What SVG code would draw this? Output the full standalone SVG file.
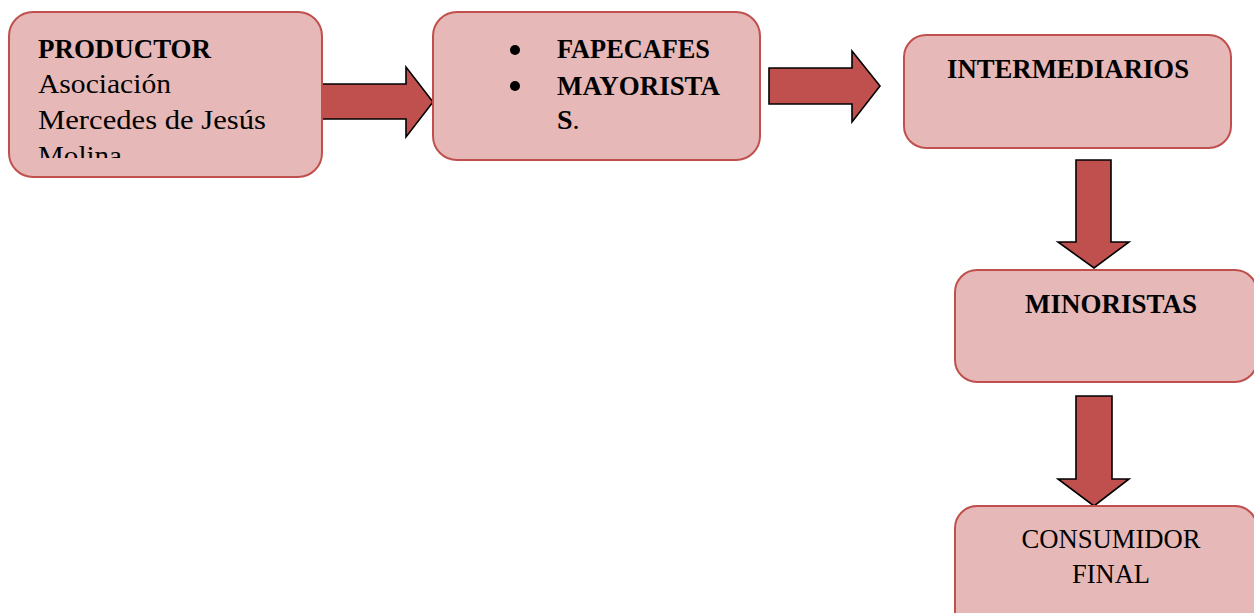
<svg xmlns="http://www.w3.org/2000/svg" width="1254" height="613" viewBox="0 0 1254 613">
<style>
.box{fill:#E6B8B7;stroke:#C0504D;stroke-width:2}
.arr{fill:#C0504D;stroke:#000;stroke-width:1.6;stroke-linejoin:miter}
.t{font-family:"Liberation Serif","DejaVu Serif",serif;font-size:28px;fill:#000}
.b{font-weight:bold}
</style>
<defs>
<clipPath id="c1"><rect x="9" y="12" width="313" height="146"/></clipPath>
</defs>
<rect width="1254" height="613" fill="#fff"/>
<g id="connectors">
<polygon class="arr" points="322,84 406,84 406,67 433,102 406,137 406,119 322,119"/>
<polygon class="arr" points="769,68 852,68 852,51 880,86 852,122 852,104 769,104"/>
<polygon class="arr" points="1076,160 1111,160 1111,242 1129,242 1094,268 1058,242 1076,242"/>
<polygon class="arr" points="1076,396 1112,396 1112,479 1129,479 1094,506 1058,479 1076,479"/>
</g>
<g id="productor">
<rect class="box" x="9" y="12" width="313" height="165" rx="24"/>
<g clip-path="url(#c1)">
<text class="t b" x="38" y="58" textLength="173" lengthAdjust="spacingAndGlyphs">PRODUCTOR</text>
<text class="t" x="38" y="93" textLength="133" lengthAdjust="spacingAndGlyphs">Asociación</text>
<text class="t" x="38" y="129" textLength="228" lengthAdjust="spacingAndGlyphs">Mercedes de Jesús</text>
<text class="t" x="38" y="165" textLength="84" lengthAdjust="spacingAndGlyphs">Molina</text>
</g>
</g>
<g id="mayoristas">
<rect class="box" x="433" y="12" width="327" height="148" rx="24"/>
<circle cx="515" cy="50" r="5"/>
<circle cx="515" cy="86" r="5"/>
<text class="t b" x="557" y="58" textLength="153" lengthAdjust="spacingAndGlyphs">FAPECAFES</text>
<text class="t b" x="557" y="95" textLength="163" lengthAdjust="spacingAndGlyphs">MAYORISTA</text>
<text class="t" x="557" y="129"><tspan class="b">S</tspan>.</text>
</g>
<g id="intermediarios">
<rect class="box" x="904" y="35" width="327" height="113" rx="22"/>
<text class="t b" x="1068" y="78" text-anchor="middle" textLength="242" lengthAdjust="spacingAndGlyphs">INTERMEDIARIOS</text>
</g>
<g id="minoristas">
<rect class="box" x="955" y="270" width="302" height="112" rx="22"/>
<text class="t b" x="1111" y="313" text-anchor="middle" textLength="172" lengthAdjust="spacingAndGlyphs">MINORISTAS</text>
</g>
<g id="consumidor">
<rect class="box" x="955" y="506" width="302" height="130" rx="22"/>
<text class="t" x="1111" y="548" text-anchor="middle" textLength="179" lengthAdjust="spacingAndGlyphs">CONSUMIDOR</text>
<text class="t" x="1111" y="583" text-anchor="middle" textLength="78" lengthAdjust="spacingAndGlyphs">FINAL</text>
</g>
</svg>
